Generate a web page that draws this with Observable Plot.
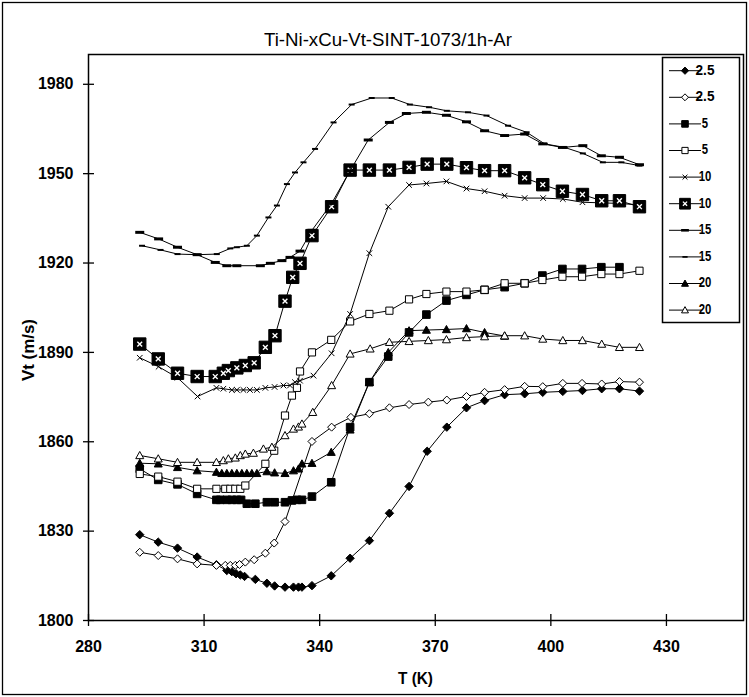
<!DOCTYPE html>
<html>
<head>
<meta charset="utf-8">
<script src="https://cdn.jsdelivr.net/npm/d3@7"></script>
<script src="https://cdn.jsdelivr.net/npm/@observablehq/plot@0.6"></script>
<style>
  html, body { margin: 0; padding: 0; background: #fff; }
  #chart { width: 749px; height: 697px; }
</style>
</head>
<body>
<div id="chart"></div>
<script>
// Sound velocity Vt (m/s) versus temperature T (K), Ti-Ni-xCu sintered 1073 K / 1 h in Ar

const xTicks = [280, 310, 340, 370, 400, 430];
const yTicks = [1800, 1830, 1860, 1890, 1920, 1950, 1980];

// x = 2.5 (heating, filled diamond)
const T_25a = [293.3, 298.1, 303.1, 308.2, 313.2, 315.9, 317.2, 318.3, 319.4, 320.5, 323.3, 326.3, 328.3, 331.0, 333.2, 334.5, 335.4, 338.0, 343.0, 347.9, 352.9, 358.1, 363.2, 367.9, 373.0, 378.1, 382.8, 388.0, 393.2, 397.9, 403.1, 408.2, 413.2, 417.8, 423.0];
const V_25a = [1828.8, 1826.3, 1824.3, 1821.3, 1818.7, 1816.8, 1816.4, 1815.7, 1815.3, 1814.8, 1813.8, 1812.5, 1811.6, 1811.2, 1811.2, 1811.2, 1811.2, 1811.7, 1815.0, 1820.9, 1826.8, 1836.0, 1845.0, 1856.8, 1864.9, 1871.4, 1873.8, 1875.8, 1876.1, 1876.6, 1876.9, 1877.2, 1877.8, 1877.8, 1877.0];

// x = 2.5 (open diamond)
const T_25b = [293.3, 298.1, 303.1, 308.2, 313.2, 315.5, 316.8, 318.1, 319.2, 320.7, 323.0, 325.9, 328.2, 331.0, 338.0, 343.1, 348.1, 352.9, 358.1, 363.2, 368.2, 373.0, 378.1, 382.8, 388.0, 393.2, 397.9, 403.1, 408.1, 413.2, 417.8, 423.0];
const V_25b = [1822.9, 1821.8, 1820.7, 1819.0, 1818.5, 1818.5, 1818.5, 1818.5, 1818.8, 1819.6, 1820.4, 1822.6, 1826.0, 1833.2, 1860.1, 1864.9, 1868.2, 1869.4, 1871.4, 1872.5, 1873.3, 1874.0, 1875.2, 1876.6, 1877.5, 1878.6, 1878.5, 1879.6, 1879.6, 1879.4, 1880.2, 1880.0];

// x = 5 (filled square)
const T_5a = [293.3, 298.1, 303.1, 308.2, 313.2, 314.2, 315.9, 317.2, 318.5, 319.6, 321.1, 323.3, 326.3, 328.3, 331.0, 332.8, 334.1, 335.4, 338.0, 343.0, 347.9, 352.9, 357.8, 363.2, 367.7, 372.9, 378.1, 382.8, 388.0, 393.2, 397.8, 403.0, 408.1, 413.1, 417.8];
const V_5a = [1850.9, 1847.2, 1845.7, 1842.5, 1840.5, 1840.5, 1840.5, 1840.5, 1840.5, 1840.5, 1839.2, 1839.2, 1839.7, 1839.7, 1839.7, 1840.3, 1840.5, 1840.5, 1841.6, 1846.4, 1864.9, 1880.0, 1888.6, 1896.7, 1902.7, 1907.4, 1909.3, 1911.0, 1911.9, 1913.2, 1915.8, 1918.0, 1918.0, 1918.6, 1918.6];

// x = 5 (open square)
const T_5b = [293.3, 298.1, 303.1, 308.2, 313.2, 315.5, 316.8, 318.1, 319.4, 320.7, 325.9, 328.2, 331.0, 332.8, 334.1, 334.9, 338.0, 343.0, 347.9, 352.9, 358.1, 363.2, 367.7, 372.9, 378.1, 382.8, 388.0, 393.2, 397.8, 403.0, 408.1, 413.1, 417.8, 423.0];
const V_5b = [1849.2, 1848.3, 1846.6, 1844.2, 1844.2, 1844.2, 1844.2, 1844.2, 1844.2, 1845.3, 1852.6, 1857.0, 1868.8, 1875.5, 1878.1, 1883.6, 1890.0, 1894.2, 1900.4, 1902.9, 1904.0, 1907.8, 1909.6, 1910.4, 1910.4, 1911.0, 1913.2, 1913.2, 1914.3, 1915.4, 1915.4, 1916.3, 1916.3, 1917.4];

// x = 10 (cross)
const T_10a = [293.3, 298.2, 303.1, 308.3, 313.2, 315.0, 317.2, 318.5, 320.2, 321.9, 323.7, 325.9, 328.3, 330.6, 332.3, 333.6, 334.9, 338.4, 343.1, 347.9, 352.9, 357.8, 363.2, 367.7, 372.9, 378.1, 382.8, 388.0, 393.2, 398.0, 403.1, 408.2, 413.2, 417.8, 423.0];
const V_10a = [1888.2, 1885.2, 1881.5, 1875.2, 1878.1, 1877.8, 1877.4, 1877.4, 1877.4, 1877.4, 1877.4, 1878.1, 1878.4, 1878.9, 1878.9, 1880.0, 1880.5, 1882.2, 1889.7, 1902.9, 1923.3, 1938.9, 1946.2, 1946.7, 1947.4, 1945.0, 1944.1, 1942.6, 1941.8, 1941.8, 1941.5, 1940.4, 1940.2, 1940.0, 1939.5];

// x = 10 (boxed cross)
const T_10b = [293.3, 298.1, 303.1, 308.2, 312.9, 315.0, 316.3, 318.5, 320.7, 323.0, 325.9, 328.4, 331.0, 333.0, 334.9, 338.0, 343.1, 347.9, 352.9, 358.1, 363.2, 367.9, 373.0, 378.1, 382.8, 388.0, 393.2, 397.9, 403.0, 408.2, 413.2, 417.8, 423.0];
const V_10b = [1892.8, 1887.8, 1883.0, 1881.9, 1881.9, 1883.0, 1883.9, 1884.8, 1885.6, 1886.5, 1891.7, 1895.6, 1907.2, 1915.2, 1919.9, 1929.2, 1938.9, 1951.2, 1951.2, 1951.2, 1952.1, 1953.2, 1953.2, 1952.0, 1951.0, 1951.0, 1948.6, 1946.3, 1944.1, 1943.0, 1940.9, 1940.9, 1938.9];

// x = 15 (wide dash)
const T_15a = [293.3, 298.2, 303.1, 308.2, 312.9, 315.9, 318.5, 324.6, 327.2, 330.2, 332.3, 334.9, 338.0, 343.1, 347.9, 352.6, 358.1, 362.5, 367.7, 372.9, 378.1, 382.8, 388.0, 393.2, 397.9, 403.0, 408.3, 413.1, 417.8, 423.0];
const V_15a = [1930.3, 1928.1, 1925.3, 1922.8, 1920.2, 1919.1, 1919.1, 1919.1, 1919.9, 1920.8, 1921.9, 1924.0, 1931.0, 1940.0, 1951.0, 1961.3, 1967.2, 1970.2, 1970.6, 1969.6, 1967.4, 1964.4, 1962.8, 1963.3, 1960.0, 1958.8, 1959.4, 1956.0, 1955.5, 1953.0];

// x = 15 (short dash)
const T_15b = [293.9, 298.7, 303.1, 308.2, 313.3, 316.8, 318.5, 321.1, 323.7, 326.7, 328.9, 331.5, 333.6, 335.8, 338.8, 343.6, 348.3, 353.5, 358.7, 363.4, 368.4, 373.0, 378.5, 383.3, 388.9, 393.7, 398.4, 403.6, 408.3, 413.5, 418.3, 423.0];
const V_15b = [1925.8, 1924.4, 1923.0, 1922.8, 1923.0, 1924.9, 1925.3, 1925.8, 1929.2, 1935.3, 1939.3, 1946.5, 1950.4, 1953.8, 1958.3, 1967.2, 1973.2, 1975.4, 1975.4, 1973.2, 1972.3, 1971.1, 1970.6, 1969.5, 1966.1, 1963.9, 1960.0, 1958.8, 1956.8, 1953.8, 1953.8, 1952.7];

// x = 20 (filled triangle)
const T_20a = [293.3, 298.1, 303.1, 308.2, 313.2, 314.6, 315.9, 317.2, 318.5, 319.8, 321.1, 322.4, 323.7, 326.3, 328.3, 331.0, 333.2, 334.5, 335.4, 338.0, 343.0, 347.9, 352.9, 357.8, 363.2, 367.7, 372.9, 378.1, 382.8, 388.0];
const V_20a = [1852.8, 1852.6, 1851.4, 1850.3, 1849.8, 1849.4, 1849.4, 1849.4, 1849.4, 1849.4, 1849.4, 1849.4, 1849.4, 1850.0, 1849.6, 1849.4, 1850.3, 1850.9, 1852.6, 1852.8, 1856.5, 1864.0, 1880.0, 1890.0, 1897.3, 1897.5, 1897.7, 1898.0, 1896.7, 1895.5];

// x = 20 (open triangle)
const T_20b = [293.3, 298.1, 303.1, 308.2, 313.2, 315.0, 316.3, 318.1, 319.4, 320.7, 322.8, 325.4, 327.6, 331.0, 333.2, 334.5, 335.4, 338.2, 343.1, 347.9, 353.1, 358.1, 363.2, 368.2, 372.9, 378.1, 382.8, 388.0, 393.2, 397.9, 403.1, 408.2, 413.2, 417.8, 423.0];
const V_20b = [1855.4, 1854.3, 1853.1, 1853.1, 1853.1, 1853.7, 1854.3, 1854.6, 1855.4, 1855.9, 1856.2, 1857.6, 1858.2, 1862.1, 1864.3, 1865.0, 1866.0, 1869.9, 1878.9, 1889.5, 1891.2, 1893.4, 1893.7, 1894.0, 1894.3, 1895.0, 1895.3, 1895.6, 1895.6, 1894.5, 1894.0, 1894.0, 1892.8, 1891.7, 1891.7];

const FONT = '"Liberation Sans Narrow", "Arial Narrow", "Liberation Sans", Arial, sans-serif';

// custom marker shapes (r = the dot radius Plot passes in through size = PI r^2)
const shape = (fn) => ({ draw(c, size) { fn(c, Math.sqrt(size / Math.PI)); } });
const diamond = shape((c, r) => { c.moveTo(0, -r); c.lineTo(r, 0); c.lineTo(0, r); c.lineTo(-r, 0); c.closePath(); });
const square = shape((c, r) => { c.rect(-r, -r, 2 * r, 2 * r); });
const triangle = shape((c, r) => { c.moveTo(0, -r); c.lineTo(r, r * 0.8); c.lineTo(-r, r * 0.8); c.closePath(); });
const cross = shape((c, r) => { c.moveTo(-r, -r); c.lineTo(r, r); c.moveTo(r, -r); c.lineTo(-r, r); });
const dash = shape((c, r) => { c.rect(-r, -r * 0.33, 2 * r, r * 0.66); });

// one entry per series: label, data arrays and marker layers
const series = [
  { label: "2.5", T: T_25a, V: V_25a, marks: [{ symbol: diamond, r: 4.2, fill: "black", stroke: "black" }] },
  { label: "2.5", T: T_25b, V: V_25b, marks: [{ symbol: diamond, r: 4, fill: "white", stroke: "black" }] },
  { label: "5", T: T_5a, V: V_5a, marks: [{ symbol: square, r: 3.8, fill: "black", stroke: "black" }] },
  { label: "5", T: T_5b, V: V_5b, marks: [{ symbol: square, r: 3.6, fill: "white", stroke: "black" }] },
  { label: "10", T: T_10a, V: V_10a, marks: [{ symbol: cross, r: 2.8, fill: "none", stroke: "black" }] },
  { label: "10", T: T_10b, V: V_10b, marks: [
      { symbol: square, r: 6.2, fill: "black", stroke: "black" },
      { symbol: cross, r: 2.4, fill: "none", stroke: "white", strokeWidth: 1.4 }] },
  { label: "15", T: T_15a, V: V_15a, marks: [{ symbol: dash, r: 4.5, fill: "black", stroke: "none" }] },
  { label: "15", T: T_15b, V: V_15b, marks: [{ symbol: dash, r: 3, fill: "black", stroke: "none" }] },
  { label: "20", T: T_20a, V: V_20a, marks: [{ symbol: triangle, r: 4, fill: "black", stroke: "black" }] },
  { label: "20", T: T_20b, V: V_20b, marks: [{ symbol: triangle, r: 4, fill: "white", stroke: "black" }] }
];

const W = 749, H = 697;
const M = { left: 88, right: 6, top: 54, bottom: 77 };
const plotW = W - M.left - M.right, plotH = H - M.top - M.bottom;

const seriesMarks = series.flatMap((s) => {
  const pts = s.T.map((t, i) => ({ t, v: s.V[i] }));
  return [
    Plot.line(pts, { x: "t", y: "v", stroke: "black", strokeWidth: 1 }),
    ...s.marks.map((m) => Plot.dot(pts, {
      x: "t", y: "v", symbol: m.symbol, r: m.r, fill: m.fill, stroke: m.stroke,
      strokeWidth: m.strokeWidth ?? 1
    }))
  ];
});

const chart = Plot.plot({
  width: W, height: H,
  marginLeft: M.left, marginRight: M.right, marginTop: M.top, marginBottom: M.bottom,
  x: { domain: [280, 450], axis: null },
  y: { domain: [1800, 1990], axis: null },
  style: { fontFamily: FONT, fontSize: "16px", color: "black", background: "white", overflow: "visible" },
  marks: [
    Plot.frame({ stroke: "black", strokeWidth: 1.5 }),
    // tick marks crossing the axes
    Plot.ruleY(yTicks, { y: (d) => d, insetRight: plotW - 11, dx: -5, stroke: "black", strokeWidth: 1.3 }),
    Plot.ruleX(xTicks, { x: (d) => d, insetTop: plotH - 12, dy: 6, stroke: "black", strokeWidth: 1.3 }),
    // tick labels
    Plot.text(yTicks, {
      y: (d) => d, text: (d) => String(d), frameAnchor: "left", textAnchor: "end", dx: -15,
      fontSize: 16, fontWeight: "bold", fill: "black", ariaLabel: "ytick"
    }),
    Plot.text(xTicks, {
      x: (d) => d, text: (d) => String(d), frameAnchor: "bottom", lineAnchor: "top", dy: 20,
      fontSize: 16, fontWeight: "bold", fill: "black", ariaLabel: "xtick"
    }),
    ...seriesMarks
  ]
});

document.getElementById("chart").appendChild(chart);

const svg = d3.select(chart);

// narrow the lettering (condensed face): k = width in px per character
function squeeze(sel, k) {
  sel.each(function () {
    const n = this.textContent.length;
    this.setAttribute("textLength", (n * k).toFixed(1));
    this.setAttribute("lengthAdjust", "spacingAndGlyphs");
  });
}
squeeze(svg.selectAll('g[aria-label="ytick"] text'), 7);
squeeze(svg.selectAll('g[aria-label="xtick"] text'), 7);

// outer border of the chart
svg.append("rect")
  .attr("x", 2.5).attr("y", 2.5).attr("width", W - 5).attr("height", H - 5)
  .attr("fill", "none").attr("stroke", "black").attr("stroke-width", 1.3);

// title and axis titles
svg.append("text")
  .attr("x", 388).attr("y", 41)
  .attr("text-anchor", "middle").attr("dominant-baseline", "middle")
  .attr("font-family", FONT).attr("font-size", 19)
  .attr("textLength", 248).attr("lengthAdjust", "spacingAndGlyphs")
  .text("Ti-Ni-xCu-Vt-SINT-1073/1h-Ar");

svg.append("text")
  .attr("x", M.left + plotW / 2).attr("y", 680)
  .attr("text-anchor", "middle").attr("dominant-baseline", "middle")
  .attr("font-family", FONT).attr("font-size", 17).attr("font-weight", "bold")
  .attr("textLength", 35).attr("lengthAdjust", "spacingAndGlyphs")
  .text("T (K)");

svg.append("text")
  .attr("transform", "translate(30,350) rotate(-90)")
  .attr("text-anchor", "middle").attr("dominant-baseline", "middle")
  .attr("font-family", FONT).attr("font-size", 17).attr("font-weight", "bold")
  .attr("textLength", 62).attr("lengthAdjust", "spacingAndGlyphs")
  .text("Vt (m/s)");

// legend box
const lg = svg.append("g");
lg.append("rect")
  .attr("x", 662.5).attr("y", 57.5).attr("width", 77).attr("height", 265)
  .attr("fill", "white").attr("stroke", "black").attr("stroke-width", 1.5);

series.forEach((s, i) => {
  const y = 70.7 + i * 26.6;
  const g = lg.append("g").attr("transform", `translate(0,${y})`);
  g.append("line").attr("x1", 669).attr("x2", 701).attr("y1", 0).attr("y2", 0)
    .attr("stroke", "black").attr("stroke-width", 1);
  s.marks.forEach((m) => {
    g.append("path")
      .attr("transform", "translate(685,0)")
      .attr("d", d3.symbol(m.symbol, Math.PI * m.r * m.r * 0.75)())
      .attr("fill", m.fill).attr("stroke", m.stroke).attr("stroke-width", m.strokeWidth ?? 1);
  });
  const t = g.append("text")
    .attr("x", 705).attr("y", 0).attr("dominant-baseline", "middle")
    .attr("font-family", FONT).attr("font-size", 15).attr("font-weight", "bold")
    .text(s.label);
  squeeze(t, 6.3);
});
</script>
</body>
</html>
